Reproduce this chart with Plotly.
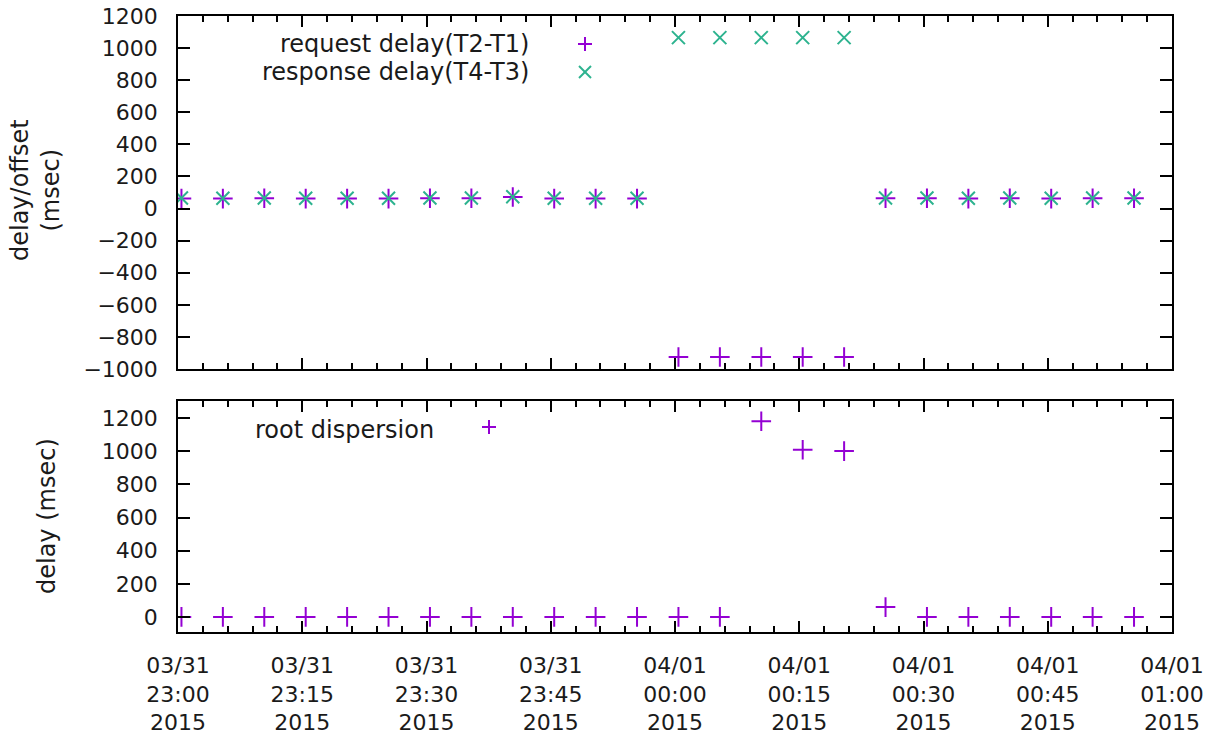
import plotly.graph_objects as go

# ---------------- data ----------------
times = [
    "2015-03-31 23:00:25", "2015-03-31 23:05:25", "2015-03-31 23:10:25", "2015-03-31 23:15:25",
    "2015-03-31 23:20:25", "2015-03-31 23:25:25", "2015-03-31 23:30:25", "2015-03-31 23:35:25",
    "2015-03-31 23:40:25", "2015-03-31 23:45:25", "2015-03-31 23:50:25", "2015-03-31 23:55:25",
    "2015-04-01 00:00:25", "2015-04-01 00:05:25", "2015-04-01 00:10:25", "2015-04-01 00:15:25",
    "2015-04-01 00:20:25", "2015-04-01 00:25:25", "2015-04-01 00:30:25", "2015-04-01 00:35:25",
    "2015-04-01 00:40:25", "2015-04-01 00:45:25", "2015-04-01 00:50:25", "2015-04-01 00:55:25",
]
request_delay = [62, 62, 64, 62, 62, 62, 64, 64, 72, 62, 62, 62,
                 -925, -925, -925, -925, -925,
                 64, 64, 62, 64, 62, 64, 64]
response_delay = [66, 64, 66, 64, 64, 64, 66, 66, 74, 64, 64, 64,
                  1065, 1065, 1065, 1065, 1065,
                  66, 66, 64, 66, 64, 66, 66]
root_dispersion = [1, 1, 1, 1, 1, 1, 1, 1, 1, 1, 1, 1, 1, 1,
                   1180, 1008, 1000, 60,
                   1, 1, 1, 1, 1, 1]

x_tick_vals = ["2015-03-31 23:00", "2015-03-31 23:15", "2015-03-31 23:30", "2015-03-31 23:45",
               "2015-04-01 00:00", "2015-04-01 00:15", "2015-04-01 00:30", "2015-04-01 00:45",
               "2015-04-01 01:00"]
x_tick_text = ["03/31<br>23:00<br>2015", "03/31<br>23:15<br>2015", "03/31<br>23:30<br>2015",
               "03/31<br>23:45<br>2015", "04/01<br>00:00<br>2015", "04/01<br>00:15<br>2015",
               "04/01<br>00:30<br>2015", "04/01<br>00:45<br>2015", "04/01<br>01:00<br>2015"]
x_range = ["2015-03-31 23:00", "2015-04-01 01:00"]
top_y_ticks = [-1000, -800, -600, -400, -200, 0, 200, 400, 600, 800, 1000, 1200]
bottom_y_ticks = [0, 200, 400, 600, 800, 1000, 1200]

legend_top = ["request delay(T2-T1)", "response delay(T4-T3)"]
legend_bottom = ["root dispersion"]

# ---------------- style ----------------
W, H = 1210, 738
L, R, T, B = 178, 38, 16, 106
PW, PH = W - L - R, H - T - B
PURPLE = "#9400d3"
GREEN = "#2db38f"
FONT = "DejaVu Sans"
TXT = "#1a1a1a"
FS = 24      # text size
TFS = 22     # tick label size


def px(x):
    return (x - L) / PW


def py(y):
    return (H - B - y) / PH


top_dom = [py(369), 1.0]
bot_dom = [0.0, py(401)]

fig = go.Figure()
fig.add_trace(go.Scatter(x=times, y=request_delay, mode="markers", xaxis="x", yaxis="y",
                         marker=dict(symbol="cross-thin", size=14, line=dict(color=PURPLE, width=2)),
                         showlegend=False, name=legend_top[0]))
fig.add_trace(go.Scatter(x=times, y=response_delay, mode="markers", xaxis="x", yaxis="y",
                         marker=dict(symbol="x-thin", size=13, line=dict(color=GREEN, width=2)),
                         showlegend=False, name=legend_top[1]))
fig.add_trace(go.Scatter(x=times, y=root_dispersion, mode="markers", xaxis="x2", yaxis="y2",
                         marker=dict(symbol="cross-thin", size=14, line=dict(color=PURPLE, width=2)),
                         showlegend=False, name=legend_bottom[0]))

axis_common = dict(showline=True, linecolor="black", linewidth=1.5, mirror="allticks",
                   ticks="inside", tickcolor="black", tickwidth=1.5, showgrid=False,
                   zeroline=False, automargin=False,
                   tickfont=dict(family=FONT, size=TFS, color=TXT))

fig.update_layout(
    width=W, height=H,
    margin=dict(l=L, r=R, t=T, b=B, autoexpand=False),
    paper_bgcolor="white", plot_bgcolor="white",
    font=dict(family=FONT, size=FS, color=TXT),
    showlegend=False,
    xaxis=dict(axis_common, domain=[0, 1], anchor="y", type="date", range=x_range,
               tickvals=x_tick_vals, ticktext=x_tick_text, showticklabels=False, ticklen=11,
               minor=dict(dtick=180000, ticklen=6, ticks="inside", tickcolor="black", tickwidth=1.5)),
    yaxis=dict(axis_common, domain=top_dom, anchor="x", range=[-1000, 1200],
               tickvals=top_y_ticks, ticklen=12, ticklabelstandoff=14),
    xaxis2=dict(axis_common, domain=[0, 1], anchor="y2", type="date", range=x_range,
                matches="x",
                tickvals=x_tick_vals, ticktext=x_tick_text, ticklen=11, ticklabelstandoff=13,
                minor=dict(dtick=180000, ticklen=6, ticks="inside", tickcolor="black", tickwidth=1.5)),
    yaxis2=dict(axis_common, domain=bot_dom, anchor="x2", range=[-90, 1302],
                tickvals=bottom_y_ticks, ticklen=12, ticklabelstandoff=14),
)

ann_common = dict(showarrow=False, xref="paper", yref="paper", yanchor="middle",
                  font=dict(family=FONT, size=FS, color=TXT))
annotations = [
    dict(ann_common, x=px(36), y=py(190), text="delay/offset<br>(msec)", textangle=-90,
         xanchor="center"),
    dict(ann_common, x=px(47), y=py(516), text="delay (msec)", textangle=-90, xanchor="center"),
    dict(ann_common, x=px(531), y=py(44), text=legend_top[0], xanchor="right"),
    dict(ann_common, x=px(531), y=py(72), text=legend_top[1], xanchor="right"),
    dict(ann_common, x=px(436), y=py(430), text=legend_bottom[0], xanchor="right"),
]
fig.update_layout(annotations=annotations)


def plus_shape(cx, cy, color, s=7):
    return [
        dict(type="line", xref="paper", yref="paper", xsizemode="pixel", ysizemode="pixel",
             xanchor=px(cx), yanchor=py(cy), x0=-s, x1=s, y0=0, y1=0,
             line=dict(color=color, width=2)),
        dict(type="line", xref="paper", yref="paper", xsizemode="pixel", ysizemode="pixel",
             xanchor=px(cx), yanchor=py(cy), x0=0, x1=0, y0=-s, y1=s,
             line=dict(color=color, width=2)),
    ]


def x_shape(cx, cy, color, s=6):
    return [
        dict(type="line", xref="paper", yref="paper", xsizemode="pixel", ysizemode="pixel",
             xanchor=px(cx), yanchor=py(cy), x0=-s, x1=s, y0=-s, y1=s,
             line=dict(color=color, width=2)),
        dict(type="line", xref="paper", yref="paper", xsizemode="pixel", ysizemode="pixel",
             xanchor=px(cx), yanchor=py(cy), x0=-s, x1=s, y0=s, y1=-s,
             line=dict(color=color, width=2)),
    ]


shapes = plus_shape(585, 44, PURPLE) + x_shape(585, 72, GREEN) + plus_shape(489, 427, PURPLE)
fig.update_layout(shapes=shapes)

fig.write_html("out.html")
